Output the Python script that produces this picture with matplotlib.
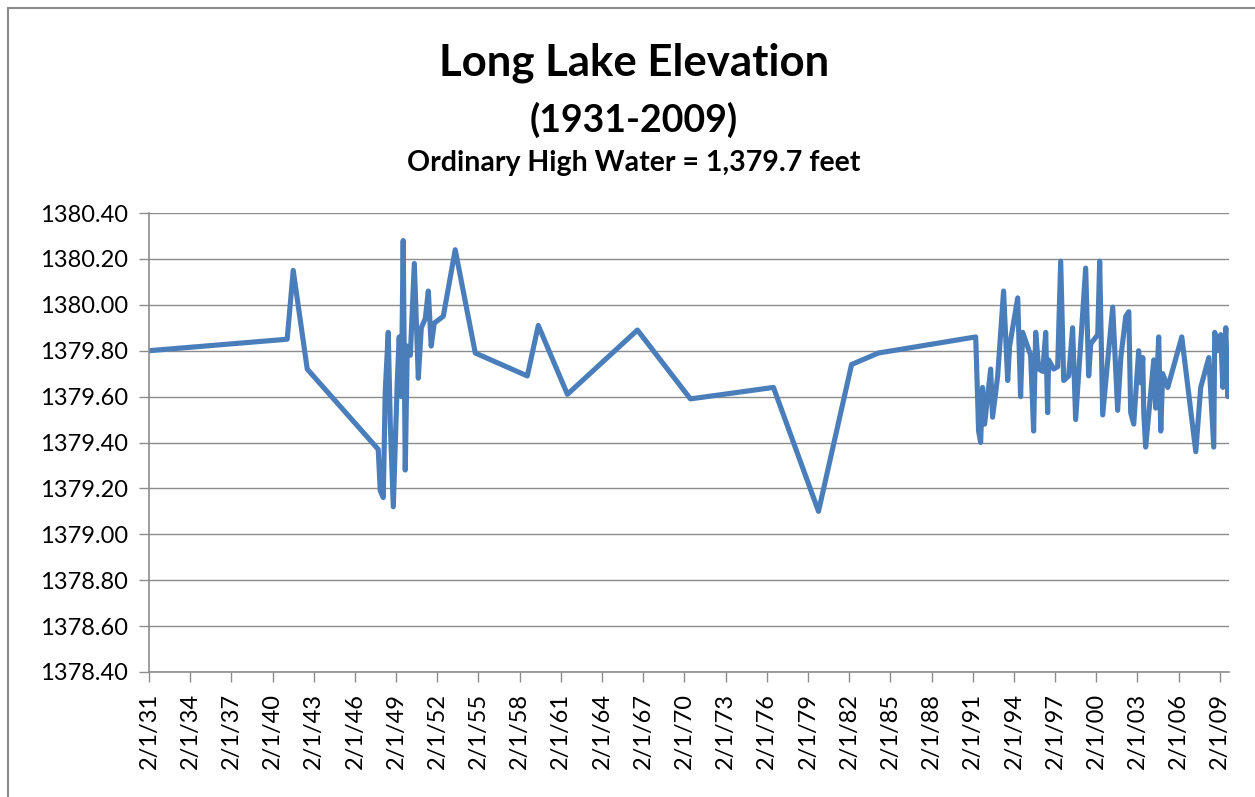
import numpy as np
import matplotlib.pyplot as plt
from matplotlib.lines import Line2D

# Long Lake readings: decimal year and elevation (feet)
years = [
    1931.09, 1941.15, 1941.59, 1942.61, 1947.78, 1947.93, 1948.15, 1948.29,
    1948.51, 1948.66, 1948.88, 1949.17, 1949.31, 1949.46, 1949.60, 1949.75,
    1949.90, 1950.12, 1950.41, 1950.70, 1950.92, 1951.21, 1951.43, 1951.64,
    1951.86, 1952.52, 1953.39, 1954.85, 1958.64, 1959.44, 1961.56, 1966.66,
    1970.52, 1976.57, 1979.85, 1982.26, 1984.22, 1991.30,
    1991.44, 1991.51, 1991.66, 1991.80, 1991.95, 1992.39, 1992.53, 1992.90,
    1993.33, 1993.63, 1993.77, 1994.36, 1994.57, 1994.72, 1995.30, 1995.52,
    1995.67, 1995.89, 1996.18, 1996.40, 1996.54, 1996.61, 1996.98, 1997.27,
    1997.49, 1997.71, 1998.07, 1998.36, 1998.58, 1999.31, 1999.53, 1999.68,
    2000.19, 2000.33, 2000.55, 2000.92, 2001.28, 2001.64, 2001.87, 2002.23,
    2002.45, 2002.59, 2002.81, 2003.17, 2003.32, 2003.47, 2003.54, 2003.68,
    2004.27, 2004.41, 2004.63, 2004.78, 2004.92, 2005.29, 2006.31, 2007.33,
    2007.69, 2008.28, 2008.64, 2008.71, 2008.93, 2009.15, 2009.30, 2009.52,
    2009.66, 2009.74,
]
elevation = [
    1379.80, 1379.85, 1380.15, 1379.72, 1379.37, 1379.19, 1379.16, 1379.62,
    1379.88, 1379.48, 1379.12, 1379.67, 1379.86, 1379.60, 1380.28, 1379.28,
    1379.82, 1379.78, 1380.18, 1379.68, 1379.90, 1379.94, 1380.06, 1379.82,
    1379.92, 1379.95, 1380.24, 1379.79, 1379.69, 1379.91, 1379.61, 1379.89,
    1379.59, 1379.64, 1379.10, 1379.74, 1379.79, 1379.86,
    1379.59, 1379.45, 1379.40, 1379.64, 1379.48, 1379.72, 1379.51, 1379.69,
    1380.06, 1379.67, 1379.82, 1380.03, 1379.60, 1379.88, 1379.78, 1379.45,
    1379.88, 1379.72, 1379.71, 1379.88, 1379.53, 1379.76, 1379.72, 1379.73,
    1380.19, 1379.67, 1379.69, 1379.90, 1379.50, 1380.16, 1379.69, 1379.83,
    1379.87, 1380.19, 1379.52, 1379.76, 1379.99, 1379.54, 1379.77, 1379.95,
    1379.97, 1379.53, 1379.48, 1379.80, 1379.66, 1379.77, 1379.53, 1379.38,
    1379.76, 1379.55, 1379.86, 1379.45, 1379.70, 1379.64, 1379.86, 1379.36,
    1379.64, 1379.77, 1379.38, 1379.88, 1379.80, 1379.87, 1379.64, 1379.90,
    1379.60, 1379.76,
]

tick_years = list(range(1931, 2010, 3))
tick_labels = ["2/1/%02d" % (y % 100) for y in tick_years]
y_ticks = [1378.4, 1378.6, 1378.8, 1379.0, 1379.2, 1379.4, 1379.6, 1379.8,
           1380.0, 1380.2, 1380.4]

plt.rcParams['font.family'] = ['Lato', 'DejaVu Sans']

fig = plt.figure(figsize=(12.55, 7.97), dpi=100)
ax = fig.add_axes([149 / 1255, 1 - 672 / 797, (1229 - 149) / 1255, (672 - 213) / 797])

ax.plot(years, elevation, color="#4A7EBB", linewidth=3.7, solid_joinstyle="round")

ax.set_xlim(1931 + 31 / 365, 2009.75)
ax.set_ylim(1378.4, 1380.4)
ax.set_yticks(y_ticks)
ax.set_yticklabels(["%.2f" % v for v in y_ticks], fontsize=17)
ax.set_xticks([y + 31 / 365 for y in tick_years])
ax.set_xticklabels(tick_labels, rotation=90, fontsize=17)
ax.yaxis.grid(True, color="#8c8c8c", linewidth=1)
ax.set_axisbelow(True)

for side in ["top", "right"]:
    ax.spines[side].set_visible(False)
for side in ["left", "bottom"]:
    ax.spines[side].set_color("#8c8c8c")
    ax.spines[side].set_linewidth(1.2)
ax.tick_params(axis="both", color="#8c8c8c", length=7, width=1, pad=8)

fig.text(0.505, 1 - 63 / 797, "Long Lake Elevation", ha="center", va="center",
         fontsize=31.5, fontweight="bold")
fig.text(0.505, 1 - 120 / 797, "(1931-2009)", ha="center", va="center",
         fontsize=27, fontweight="bold")
fig.text(0.505, 1 - 163 / 797, "Ordinary High Water = 1,379.7 feet", ha="center",
         va="center", fontsize=20.5, fontweight="bold")

# chart area border
fig.add_artist(Line2D([8 / 1255, 8 / 1255], [0, 1 - 8 / 797], color="#8c8c8c", linewidth=1.5))
fig.add_artist(Line2D([8 / 1255, 1], [1 - 8 / 797, 1 - 8 / 797], color="#8c8c8c", linewidth=1.5))

fig.savefig("out.png", dpi=100)
